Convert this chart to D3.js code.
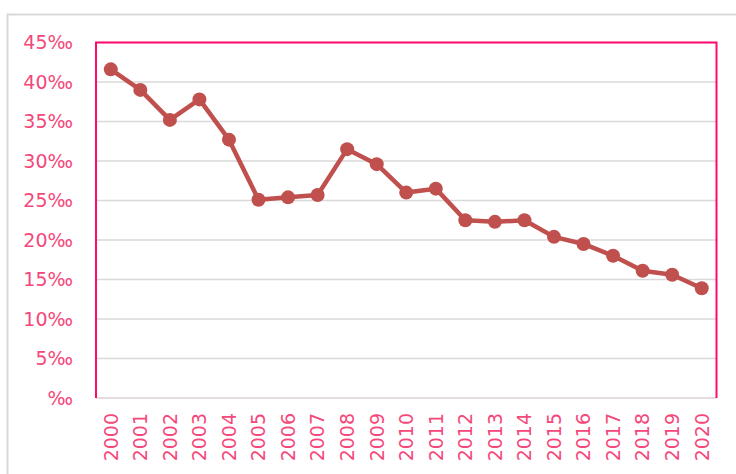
<!DOCTYPE html>
<html>
<head>
<meta charset="utf-8">
<script src="https://cdn.jsdelivr.net/npm/d3@7"></script>
<style>
  body{margin:0;background:#fff;}
  svg{display:block;}
</style>
</head>
<body>
<svg id="holder"></svg>
<script>
// data (per mille)
var years=['2000','2001','2002','2003','2004','2005','2006','2007','2008','2009','2010',
           '2011','2012','2013','2014','2015','2016','2017','2018','2019','2020'];
var values=[41.6,39.0,35.2,37.8,32.7,25.1,25.4,25.7,31.5,29.6,26.0,
            26.5,22.5,22.3,22.5,20.4,19.5,18.0,16.1,15.6,13.9];
var yticks=[0,5,10,15,20,25,30,35,40,45];

var width=736, height=474;
var padding_left=96, padding_right=736-716.5, padding_top=42.5, padding_bottom=474-398;
var label_color='#f5487a';

var svg=d3.select('#holder').attr('width',width).attr('height',height);

// chart area border
svg.append('rect')
  .attr('x',7.5).attr('y',14.5).attr('width',width).attr('height',height)
  .attr('fill','#fff').attr('stroke','#d9d9d9').attr('stroke-width',2);

var xscale=d3.scaleBand().domain(years).range([padding_left,width-padding_right]);
var yscale=d3.scaleLinear().domain([0,45]).range([height-padding_bottom,padding_top]);

var gg=svg.append('g');

// gridlines
gg.selectAll('line.grid').data(yticks.filter(function(d){return d>0;}))
  .enter().append('line')
  .attr('class','grid')
  .attr('x1',padding_left).attr('x2',width-padding_right)
  .attr('y1',function(d){return yscale(d);}).attr('y2',function(d){return yscale(d);})
  .attr('stroke','#d9d9d9').attr('stroke-width',1.5);

// bottom axis line
gg.append('line')
  .attr('x1',padding_left).attr('x2',width-padding_right)
  .attr('y1',yscale(0)).attr('y2',yscale(0))
  .attr('stroke','#dcd0d6').attr('stroke-width',1.5);

// pink plot border (top, left, right)
var x0=padding_left, x1=width-padding_right, y0=yscale(45), y1=yscale(0);
gg.append('path')
  .attr('d','M'+x0+','+y1+'L'+x0+','+y0+'L'+x1+','+y0+'L'+x1+','+y1)
  .attr('fill','none').attr('stroke','#ff0a6c').attr('stroke-width',2);

// y axis labels
var y_axis=d3.axisLeft(yscale).tickValues(yticks).tickSize(0).tickPadding(0)
  .tickFormat(function(d){return (d===0?'':d)+'\u2030';});
var Y=gg.append('g').attr('transform','translate(73,0)').call(y_axis);
Y.select('.domain').remove();
Y.selectAll('text')
  .attr('fill',label_color)
  .style('font-family','"DejaVu Sans", Verdana, sans-serif')
  .style('font-size','19px');

// x axis labels (rotated)
var x_axis=d3.axisBottom(xscale).tickSize(0).tickPadding(0);
var X=gg.append('g').attr('transform','translate(0,'+(y1+15)+')').call(x_axis);
X.select('.domain').remove();
X.selectAll('text')
  .attr('fill',label_color)
  .attr('transform','rotate(-90)')
  .attr('x',0).attr('y',0).attr('dy','0.36em')
  .style('text-anchor','end')
  .style('font-family','"DejaVu Sans", Verdana, sans-serif')
  .style('font-size','19px');

// data line and markers
var color='#c0504d';
var line=d3.line()
  .x(function(d,i){return xscale(years[i])+xscale.bandwidth()/2;})
  .y(function(d){return yscale(d);});
gg.append('path')
  .attr('d',line(values))
  .attr('fill','none').attr('stroke',color).attr('stroke-width',4.5)
  .attr('stroke-linejoin','round');
gg.selectAll('circle.pt').data(values).enter().append('circle')
  .attr('class','pt')
  .attr('cx',function(d,i){return xscale(years[i])+xscale.bandwidth()/2;})
  .attr('cy',function(d){return yscale(d);})
  .attr('r',7)
  .attr('fill',color);
</script>
</body>
</html>
